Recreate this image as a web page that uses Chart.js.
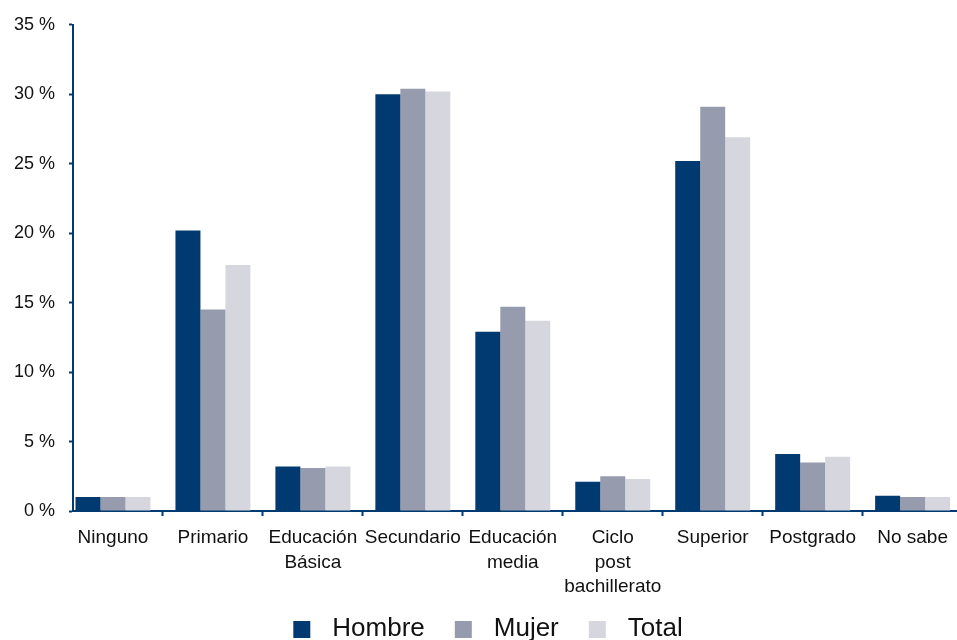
<!DOCTYPE html>
<html lang="es">
<head>
<meta charset="utf-8">
<title>Nivel educativo por sexo</title>
<script src="https://cdn.jsdelivr.net/npm/chart.js@4.4.1/dist/chart.umd.min.js"></script>
<style>
    html, body { margin: 0; padding: 0; background: #fff; overflow: hidden; }
    #wrap { width: 957px; height: 640px; overflow: hidden; }
    canvas { display: block; }
</style>
</head>
<body>
<div id="wrap"><canvas id="eduChart" width="958" height="652"></canvas></div>
<script>
// ============================================
// NIVEL EDUCATIVO - HOMBRE / MUJER / TOTAL
// ============================================

const categories = [
    'Ninguno',
    'Primario',
    ['Educación', 'Básica'],
    'Secundario',
    ['Educación', 'media'],
    ['Ciclo', 'post', 'bachillerato'],
    'Superior',
    'Postgrado',
    'No sabe'
];

const hombre = [1.0, 20.2, 3.2, 30.0, 12.9, 2.1, 25.2, 4.1, 1.1];
const mujer  = [1.0, 14.5, 3.1, 30.4, 14.7, 2.5, 29.1, 3.5, 1.0];
const total  = [1.0, 17.7, 3.2, 30.2, 13.7, 2.3, 26.9, 3.9, 1.0];

const yTicks = [0, 5, 10, 15, 20, 25, 30, 35];

const AXIS = '#003a70';
const COLORS = { hombre: '#003a70', mujer: '#969cae', total: '#d6d7de' };
const FONT = '"Liberation Sans", Arial, Helvetica, sans-serif';

// legend swatch: 17px square inside a wider transparent canvas,
// gives room before the square and between square and text
function swatch(color) {
    const c = document.createElement('canvas');
    c.width = 44;
    c.height = 17;
    const g = c.getContext('2d');
    g.fillStyle = color;
    g.fillRect(18, 0, 17, 17);
    return c;
}

function toPoints(values) {
    return values.map((v, i) => ({ x: i, y: v }));
}

const datasets = [
    { label: 'Hombre', data: toPoints(hombre), backgroundColor: COLORS.hombre, pointStyle: swatch(COLORS.hombre) },
    { label: 'Mujer',  data: toPoints(mujer),  backgroundColor: COLORS.mujer,  pointStyle: swatch(COLORS.mujer) },
    { label: 'Total',  data: toPoints(total),  backgroundColor: COLORS.total,  pointStyle: swatch(COLORS.total) }
];

new Chart(document.getElementById('eduChart'), {
    type: 'bar',
    data: { datasets: datasets },
    options: {
        responsive: false,
        animation: false,
        layout: { padding: { top: 23, left: 0, right: 0, bottom: 0 } },
        datasets: {
            bar: { categoryPercentage: 0.75, barPercentage: 1.0, borderWidth: 0 }
        },
        scales: {
            x: {
                type: 'linear',
                offset: false,
                min: -0.4,
                max: 8.45,
                afterBuildTicks: scale => {
                    scale.ticks = categories.map((_, i) => ({ value: i }));
                },
                afterFit: scale => { scale.height = 93; },
                border: { color: AXIS, width: 2 },
                grid: {
                    offset: true,
                    drawOnChartArea: false,
                    drawTicks: true,
                    tickLength: 5,
                    tickColor: AXIS,
                    tickWidth: 2
                },
                ticks: {
                    padding: 10,
                    color: '#111',
                    maxRotation: 0,
                    autoSkip: false,
                    font: { family: FONT, size: 19, lineHeight: 1.28 },
                    callback: value => categories[value]
                }
            },
            y: {
                min: 0,
                max: 35,
                afterBuildTicks: scale => {
                    scale.ticks = yTicks.map(v => ({ value: v }));
                },
                afterFit: scale => { scale.width = 73; },
                border: { color: AXIS, width: 2 },
                grid: {
                    drawOnChartArea: false,
                    tickLength: 4,
                    tickColor: AXIS,
                    tickWidth: 2
                },
                ticks: {
                    padding: 14,
                    color: '#111',
                    font: { family: FONT, size: 18 },
                    callback: v => v + ' %'
                }
            }
        },
        plugins: {
            tooltip: { enabled: false },
            legend: {
                position: 'bottom',
                labels: {
                    usePointStyle: true,
                    pointStyleWidth: 44,
                    boxHeight: 17,
                    padding: 12,
                    color: '#111',
                    font: { family: FONT, size: 26 }
                }
            }
        }
    }
});
</script>
</body>
</html>
